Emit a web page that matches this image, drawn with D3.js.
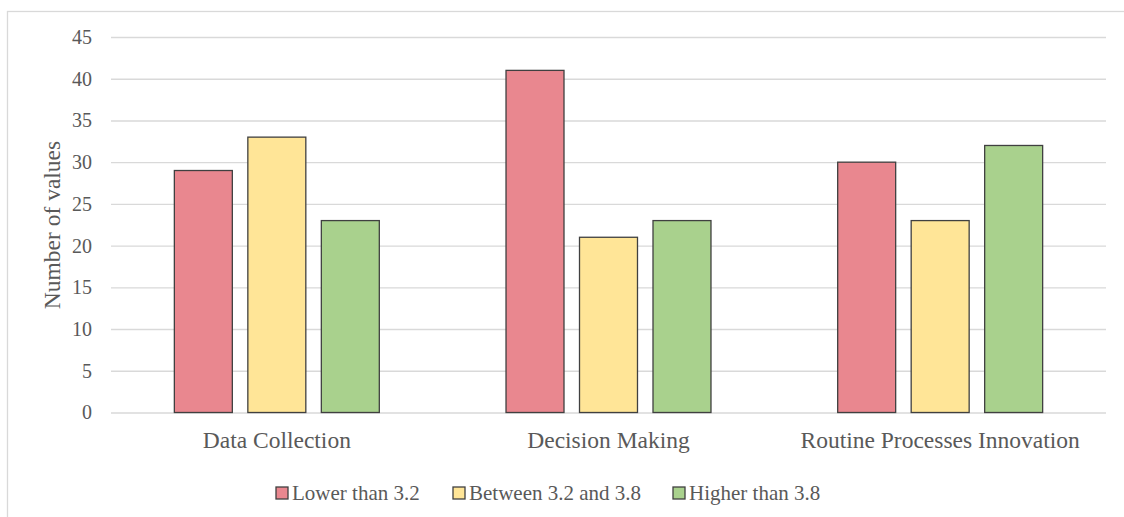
<!DOCTYPE html>
<html>
<head>
<meta charset="utf-8">
<script src="https://cdn.jsdelivr.net/npm/d3@7"></script>
<style>
  html, body { margin: 0; padding: 0; background: #ffffff; }
  svg { display: block; }
  text { font-family: "Liberation Serif", "Times New Roman", serif; fill: #595959; }
</style>
</head>
<body>
<svg id="chart" width="1124" height="517"></svg>
<script>
// Categories and series
const categories = ["Data Collection", "Decision Making", "Routine Processes Innovation"];
const seriesNames = ["Lower than 3.2", "Between 3.2 and 3.8", "Higher than 3.8"];
const seriesColors = ["#e9878f", "#ffe597", "#a9d18d"];
const lowerValues = [29, 41, 30];
const betweenValues = [33, 21, 23];
const higherValues = [23, 23, 32];
const yTicks = [0, 5, 10, 15, 20, 25, 30, 35, 40, 45];
const yTitle = "Number of values";

const seriesValues = [lowerValues, betweenValues, higherValues];

const svg = d3.select("#chart");
const W = 1124, H = 517;

// Outer chart frame
svg.append("rect")
  .attr("x", 7.5).attr("y", 11.5)
  .attr("width", W + 10).attr("height", H + 10)
  .attr("fill", "#ffffff")
  .attr("stroke", "#d9d9d9").attr("stroke-width", 1.3);

const plot = { left: 111, right: 1106, top: 37, bottom: 412.5 };

const y = d3.scaleLinear().domain([0, 45]).range([plot.bottom, plot.top]);
const x0 = d3.scaleBand().domain(categories).range([plot.left, plot.right]).paddingInner(0).paddingOuter(0);
const x1 = d3.scaleBand().domain(seriesNames).range([0, x0.bandwidth()])
  .paddingInner(0.211).paddingOuter(0.862);

// Gridlines and tick labels
const yAxis = d3.axisLeft(y).tickValues(yTicks).tickSize(-(plot.right - plot.left)).tickPadding(19);
const gy = svg.append("g").attr("transform", `translate(${plot.left},0)`).call(yAxis);
gy.select(".domain").remove();
gy.selectAll(".tick line").attr("stroke", "#d9d9d9").attr("stroke-width", 1.4);
gy.selectAll(".tick text")
  .attr("font-family", "Liberation Serif, Times New Roman, serif")
  .attr("font-size", 20).attr("fill", "#595959");

// Bars
const groups = svg.append("g").selectAll("g")
  .data(categories)
  .join("g")
  .attr("transform", d => `translate(${x0(d)},0)`);

groups.selectAll("rect")
  .data((c, ci) => seriesNames.map((s, si) => ({ s, si, v: seriesValues[si][ci] })))
  .join("rect")
  .attr("x", d => x1(d.s))
  .attr("width", x1.bandwidth())
  .attr("y", d => y(d.v))
  .attr("height", d => y(0) - y(d.v))
  .attr("fill", d => seriesColors[d.si])
  .attr("stroke", "#404040")
  .attr("stroke-width", 1.3);

// Category labels
svg.append("g").selectAll("text")
  .data(categories)
  .join("text")
  .attr("x", d => x0(d) + x0.bandwidth() / 2)
  .attr("y", 448)
  .attr("text-anchor", "middle")
  .attr("font-size", 23.5)
  .text(d => d);

// Y axis title
svg.append("text")
  .attr("transform", `translate(60,225) rotate(-90)`)
  .attr("text-anchor", "middle")
  .attr("font-size", 23.5)
  .text(yTitle);

// Legend
const legendX = [276, 453, 673];
const legend = svg.append("g").selectAll("g")
  .data(seriesNames)
  .join("g")
  .attr("transform", (d, i) => `translate(${legendX[i]},487)`);
legend.append("rect")
  .attr("width", 12).attr("height", 12)
  .attr("fill", (d, i) => seriesColors[i])
  .attr("stroke", "#404040").attr("stroke-width", 1.3);
legend.append("text")
  .attr("x", 16).attr("y", 13)
  .attr("font-size", 21)
  .text(d => d);
</script>
</body>
</html>
